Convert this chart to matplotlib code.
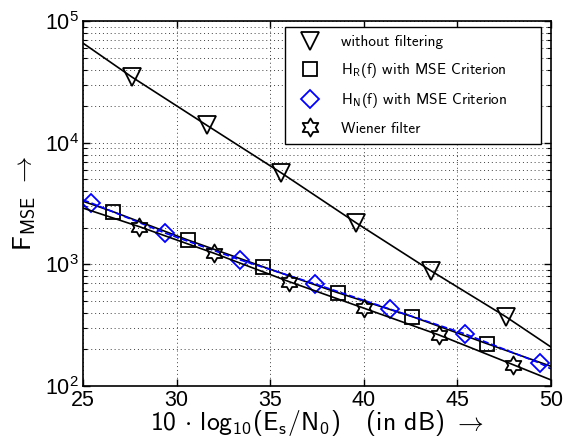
import numpy as np
import matplotlib
matplotlib.use("Agg")
import matplotlib.pyplot as plt
from matplotlib.lines import Line2D
from matplotlib.path import Path
from matplotlib.ticker import LogLocator, NullFormatter

plt.rcParams['font.family'] = ['Liberation Sans', 'DejaVu Sans']
plt.rcParams['mathtext.fontset'] = 'cm'

# values (x in dB, y = F_MSE)
snr_nofilt = [25, 27.6, 31.6, 35.6, 39.6, 43.6, 47.6, 50]
mse_nofilt = [65900, 34800, 13960, 5640, 2190, 883, 370, 209]

snr_hr = [25, 26.6, 30.6, 34.6, 38.6, 42.6, 46.6, 50]
mse_hr = [3300, 2710, 1585, 957, 585, 371, 222, 145]

snr_hn = [25, 25.4, 29.4, 33.4, 37.4, 41.4, 45.4, 49.4, 50]
mse_hn = [3380, 3213, 1803, 1086, 690, 428, 268, 154, 138]

snr_wiener = [25, 28, 32, 36, 40, 44, 48, 50]
mse_wiener = [2900, 2042, 1233, 721, 436, 263, 149, 112]

labels = ['without filtering',
          r'H$_\mathregular{R}$(f) with MSE Criterion',
          r'H$_\mathregular{N}$(f) with MSE Criterion',
          'Wiener filter']

hexagram = Path.unit_regular_star(6, 0.577)

fig = plt.figure(figsize=(5.65, 4.41), dpi=100)
ax = fig.add_axes([0.147, 0.125, 0.828, 0.827])

mk = dict(markerfacecolor='none', markeredgewidth=1.3)
ax.plot(snr_nofilt, mse_nofilt, 'k-', lw=1.2, marker='v', ms=13,
        markevery=slice(1, -1), **mk)
ax.plot(snr_hr, mse_hr, 'k-', lw=1.2, marker='s', ms=10,
        markevery=slice(1, -1), **mk)
ax.plot(snr_hn, mse_hn, color='b', ls='--', lw=1.2, marker='D', ms=9,
        markevery=slice(1, -1), **mk)
ax.plot(snr_wiener, mse_wiener, 'k-', lw=1.2, marker=hexagram, ms=13,
        markevery=slice(1, -1), **mk)

ax.set_yscale('log')
ax.set_xlim(25, 50)
ax.set_ylim(1e2, 1e5)
ax.set_xticks([25, 30, 35, 40, 45, 50])
ax.yaxis.set_major_locator(LogLocator(base=10, numticks=10))
ax.yaxis.set_minor_locator(LogLocator(base=10, subs=np.arange(2, 10), numticks=20))
ax.yaxis.set_minor_formatter(NullFormatter())

ax.tick_params(which='both', direction='in', top=True, right=True, labelsize=15.5)
ax.tick_params(which='major', length=5, width=1, pad=3)
ax.tick_params(which='minor', length=3, width=0.8)
for s in ax.spines.values():
    s.set_linewidth(1.2)

ax.grid(True, which='major', color='0.25', ls=(0, (1, 3)), lw=0.7)
ax.grid(True, which='minor', axis='y', color='0.25', ls=(0, (1, 3)), lw=0.7)

ax.set_xlabel(r'10 $\cdot$ log$_\mathregular{10}$(E$_\mathregular{s}$/N$_\mathregular{0}$)   (in dB) $\rightarrow$',
              fontfamily='cmss10', fontsize=18.5, labelpad=-2)
ax.set_ylabel(r'F$_\mathregular{MSE}$ $\rightarrow$', fontfamily='cmss10',
              fontsize=19, labelpad=6)

handles = [
    Line2D([], [], ls='none', color='k', marker='v', ms=13, **mk),
    Line2D([], [], ls='none', color='k', marker='s', ms=10, **mk),
    Line2D([], [], ls='none', color='b', marker='D', ms=9, **mk),
    Line2D([], [], ls='none', color='k', marker=hexagram, ms=13, **mk),
]
leg = ax.legend(handles, labels, loc='upper left',
                bbox_to_anchor=(0.432, 0.668, 0.547, 0.316), mode='expand',
                prop={'family': 'cmss10', 'size': 11}, fancybox=False,
                framealpha=1, edgecolor='k', borderpad=0.55, labelspacing=0.75,
                handletextpad=0.9, handlelength=2.2, borderaxespad=0)
leg.get_frame().set_linewidth(1.0)

fig.savefig('out.png', dpi=100)
